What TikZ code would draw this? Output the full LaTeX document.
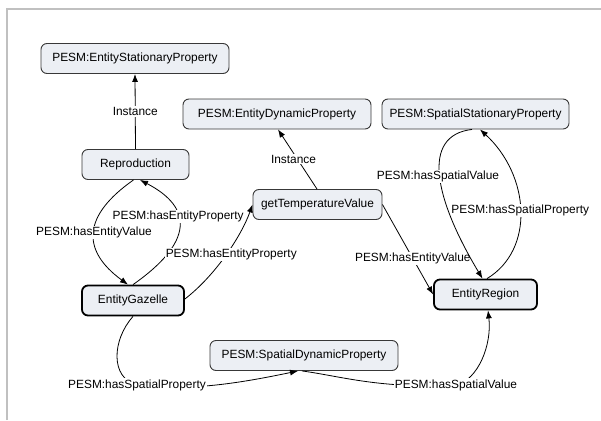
\documentclass[tikz,border=0pt]{standalone}
\usepackage{fontspec}
\setmainfont{Liberation Sans}
\usetikzlibrary{arrows.meta}
\definecolor{nodefill}{RGB}{236,239,244}
\definecolor{framegray}{RGB}{192,192,192}
\begin{document}
\begin{tikzpicture}[x=1pt,y=-1pt,
  every node/.style={font=\fontsize{11.9}{14}\selectfont},
  cls/.style={draw=black!78, line width=0.9pt, fill=nodefill, rounded corners=6pt,
              inner sep=0pt, minimum height=30pt},
  inst/.style={cls, draw=black, line width=1.8pt},
  lbl/.style={fill=white, inner sep=1pt},
  edge/.style={line width=0.8pt, -{Latex[length=8pt,width=6pt]}},
]
\useasboundingbox (0,0) rectangle (601,420);
% panel border (top and left edges)
\draw[framegray, line width=1.5pt] (7,420) -- (7,9) -- (601,9);

% classes and instances
\node[cls, minimum width=188pt] (esp) at (135,58.5)  {PESM:EntityStationaryProperty};
\node[cls, minimum width=107pt] (rep) at (135.5,164.5) {Reproduction};
\node[cls, minimum width=188pt] (edp) at (277,114)   {PESM:EntityDynamicProperty};
\node[cls, minimum width=187pt] (ssp) at (475.5,114) {PESM:SpatialStationaryProperty};
\node[cls, minimum width=129pt] (gtv) at (317.5,204.5) {getTemperatureValue};
\node[inst, minimum width=102pt] (gaz) at (133,300.5) {EntityGazelle};
\node[inst, minimum width=103pt] (reg) at (485.5,294.5) {EntityRegion};
\node[cls, minimum width=188pt] (sdp) at (304,355.5) {PESM:SpatialDynamicProperty};

% instance links
\draw[edge] (rep.north) -- node[lbl]{Instance} (esp.south);
\draw[edge] ([xshift=-0.5pt]gtv.north) -- node[lbl, xshift=-4pt]{Instance} ([xshift=1pt]edp.south);

% EntityGazelle <-> Reproduction
\draw[edge] ([xshift=-2pt]rep.south) .. controls +(-50,35) and +(-48,-35) ..
  node[lbl, pos=0.5]{PESM:hasEntityValue} ([xshift=-5pt]gaz.north);
\draw[edge] (gaz.north) .. controls +(60,-42) and +(54,28) ..
  node[lbl, pos=0.6]{PESM:hasEntityProperty} ([xshift=4.5pt]rep.south);

% EntityGazelle -> getTemperatureValue
\draw[edge] ([yshift=1.5pt]gaz.east) .. controls +(31,-24) and +(-11,31) ..
  node[lbl, pos=0.5, xshift=5pt]{PESM:hasEntityProperty} (gtv.west);

% getTemperatureValue -> EntityRegion
\draw[edge] (gtv.east) -- node[lbl, pos=0.6]{PESM:hasEntityValue} (reg.west);

% EntityRegion <-> SpatialStationaryProperty
\draw[edge] ([xshift=1.5pt]reg.north) .. controls +(48,-29) and +(50,46) ..
  node[lbl, pos=0.5]{PESM:hasSpatialProperty} ([xshift=4.5pt]ssp.south);
\draw[edge] ([xshift=-3.5pt]ssp.south) .. controls +(-52,6) and +(-47.5,-79) ..
  node[lbl, pos=0.5, xshift=-2pt]{PESM:hasSpatialValue} ([xshift=-3pt]reg.north);

% EntityGazelle -> SpatialDynamicProperty
\coordinate (hsp) at (137,385);
\draw[edge] (gaz.south) .. controls (112,340) and (110,378) .. (hsp)
  .. controls (190,392) and (245,382) .. ([xshift=-6pt]sdp.south);
\node[lbl] (hspl) at (hsp) {PESM:hasSpatialProperty};

% SpatialDynamicProperty -> EntityRegion
\coordinate (hsv) at (456,385);
\draw[edge] ([xshift=-2pt]sdp.south) .. controls (340,376) and (380,389) .. (hsv)
  .. controls (478,380) and (492,345) .. ([xshift=2.5pt]reg.south);
\node[lbl] (hsvl) at (hsv) {PESM:hasSpatialValue};
\end{tikzpicture}
\end{document}
